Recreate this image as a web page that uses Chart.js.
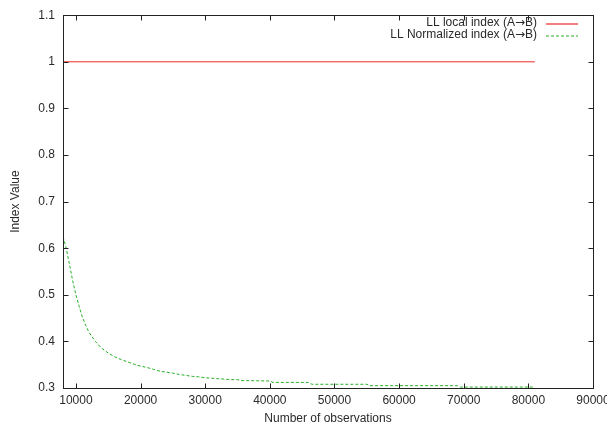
<!DOCTYPE html>
<html>
<head>
<meta charset="utf-8">
<script src="https://cdn.jsdelivr.net/npm/chart.js@4.4.1/dist/chart.umd.min.js"></script>
<style>
html, body { margin: 0; padding: 0; background: #fff; }
</style>
</head>
<body>
<canvas id="grafico" width="607" height="427"></canvas>
<script>
// valores
const xTicks = [10000, 20000, 30000, 40000, 50000, 60000, 70000, 80000, 90000];
const yTicks = [0.3, 0.4, 0.5, 0.6, 0.7, 0.8, 0.9, 1, 1.1];

const localObs = [8000, 81000];
const localIndex = [1, 1];

const normObs = [8000, 8500, 9000, 9500, 10000, 10500, 11000, 11500, 12000, 12500,
    13000, 14000, 15000, 16000, 17000, 18000, 19000, 20000, 21000, 22000,
    23000, 24000, 25000, 26000, 27000, 28000, 29000, 30000, 31000, 32000,
    33000, 34000, 35000, 35500, 40000, 40500, 46000, 46500, 55000, 55500,
    69000, 69500, 81000];
const normIndex = [0.625, 0.600, 0.565, 0.530, 0.500, 0.475, 0.452, 0.435, 0.420, 0.410,
    0.400, 0.385, 0.375, 0.367, 0.361, 0.356, 0.351, 0.347, 0.344, 0.340,
    0.336, 0.334, 0.332, 0.329, 0.327, 0.325, 0.324, 0.322, 0.321, 0.320,
    0.319, 0.318, 0.318, 0.316, 0.315, 0.312, 0.312, 0.308, 0.308, 0.305,
    0.305, 0.302, 0.302];

const etiquetas = ["LL local index (A\u2192B)", "LL Normalized index (A\u2192B)"];
const colores = ['#f02828', '#28af28'];

function puntos(xs, ys) {
    return xs.map((x, i) => ({ x: x, y: ys[i] }));
}

const familia = "'Liberation Sans', Arial, sans-serif";
const fuente = { family: familia, size: 12 };
const colorTexto = '#2a2a2a';

// marco y marcas hacia adentro, estilo gnuplot
const marcoPlugin = {
    id: 'marco',
    afterDatasetsDraw(chart) {
        const ctx = chart.ctx;
        const a = chart.chartArea;
        const l = Math.round(a.left) + 0.5, r = Math.round(a.right) + 0.5;
        const t = Math.round(a.top) + 0.5, b = Math.round(a.bottom) + 0.5;
        ctx.save();
        ctx.strokeStyle = '#222';
        ctx.lineWidth = 1;
        ctx.setLineDash([]);
        ctx.strokeRect(l, t, r - l, b - t);
        ctx.beginPath();
        chart.scales.x.ticks.forEach(tk => {
            const px = Math.round(chart.scales.x.getPixelForValue(tk.value)) + 0.5;
            ctx.moveTo(px, b); ctx.lineTo(px, b - 5);
            ctx.moveTo(px, t); ctx.lineTo(px, t + 5);
        });
        chart.scales.y.ticks.forEach(tk => {
            const py = Math.round(chart.scales.y.getPixelForValue(tk.value)) + 0.5;
            ctx.moveTo(l, py); ctx.lineTo(l + 5, py);
            ctx.moveTo(r, py); ctx.lineTo(r - 5, py);
        });
        ctx.stroke();
        ctx.restore();
    }
};

// leyenda: texto a la izquierda, muestra de linea a la derecha
const leyendaPlugin = {
    id: 'leyendaGnuplot',
    afterDraw(chart) {
        const ctx = chart.ctx;
        ctx.save();
        ctx.textAlign = 'left';
        ctx.textBaseline = 'middle';
        chart.data.datasets.forEach((ds, i) => {
            const y = 23 + i * 11.5;
            // la flecha se dibuja con DejaVu para que sea mas larga
            const partes = ds.label.split('\u2192');
            const fA = '12px ' + familia;
            const fB = '12px "DejaVu Sans", sans-serif';
            ctx.font = fA;
            const w0 = ctx.measureText(partes[0]).width;
            const w2 = ctx.measureText(partes[1]).width;
            ctx.font = fB;
            const w1 = ctx.measureText('\u2192').width;
            let x = 537 - (w0 + w1 + w2);
            ctx.fillStyle = colorTexto;
            ctx.font = fA; ctx.fillText(partes[0], x, y); x += w0;
            ctx.font = fB; ctx.fillText('\u2192', x, y); x += w1;
            ctx.font = fA; ctx.fillText(partes[1], x, y);
            // muestra de linea, mismo trazo que la serie
            const yy = Math.round(y) + 1;
            ctx.strokeStyle = colores[i];
            ctx.lineWidth = 1.2;
            ctx.setLineDash(ds.borderDash || []);
            ctx.beginPath();
            ctx.moveTo(546, yy);
            ctx.lineTo(578, yy);
            ctx.stroke();
        });
        ctx.restore();
    }
};

const ctx = document.getElementById('grafico').getContext('2d');
new Chart(ctx, {
    type: 'line',
    data: {
        datasets: [{
            label: etiquetas[0],
            data: puntos(localObs, localIndex),
            borderColor: colores[0],
            borderWidth: 1,
            pointRadius: 0,
            tension: 0
        }, {
            label: etiquetas[1],
            data: puntos(normObs, normIndex),
            borderColor: colores[1],
            borderDash: [3, 2],
            borderWidth: 1,
            pointRadius: 0,
            tension: 0
        }]
    },
    options: {
        responsive: false,
        animation: false,
        devicePixelRatio: 1,
        layout: { padding: { top: 12, right: 14, left: 0, bottom: 0 } },
        plugins: {
            legend: { display: false },
            tooltip: { enabled: false }
        },
        scales: {
            x: {
                type: 'linear',
                min: 8000,
                max: 90000,
                grid: { display: false, drawTicks: false },
                border: { display: false },
                afterBuildTicks: scale => { scale.ticks = xTicks.map(v => ({ value: v })); },
                afterFit: scale => {
                    scale.height = 39;
                    scale.paddingLeft = 0;
                    scale.paddingRight = 0;
                },
                ticks: {
                    font: fuente,
                    color: colorTexto,
                    padding: 5,
                    maxRotation: 0,
                    autoSkip: false,
                    callback: v => String(v)
                },
                title: {
                    display: true,
                    text: 'Number of observations',
                    font: fuente,
                    color: colorTexto,
                    padding: { top: 0, bottom: 1 }
                }
            },
            y: {
                type: 'linear',
                min: 0.3,
                max: 1.1,
                grid: { display: false, drawTicks: false },
                border: { display: false },
                afterBuildTicks: scale => { scale.ticks = yTicks.map(v => ({ value: v })); },
                afterFit: scale => { scale.width = 63; },
                ticks: {
                    font: fuente,
                    color: colorTexto,
                    padding: 8,
                    autoSkip: false,
                    callback: v => String(v)
                },
                title: {
                    display: true,
                    text: 'Index Value',
                    font: fuente,
                    color: colorTexto,
                    padding: { top: 8, bottom: 0 }
                }
            }
        }
    },
    plugins: [marcoPlugin, leyendaPlugin]
});
</script>
</body>
</html>
